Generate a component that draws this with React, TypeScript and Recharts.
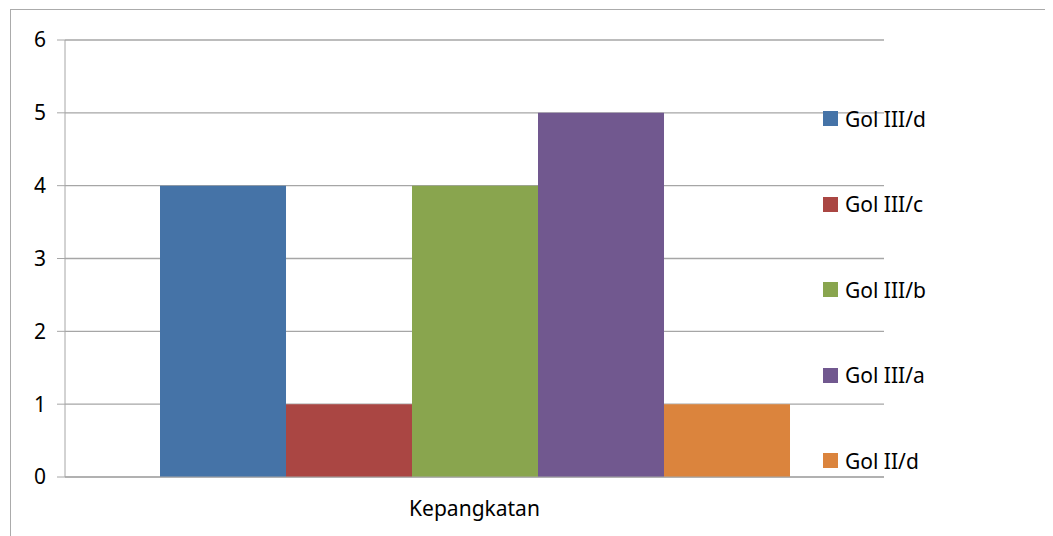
import React from "react";
import { BarChart, Bar, XAxis, YAxis, CartesianGrid } from "recharts";

const categories = ["Kepangkatan"];
const seriesNames = ["Gol III/d", "Gol III/c", "Gol III/b", "Gol III/a", "Gol II/d"];
const seriesValues = [4, 1, 4, 5, 1];
const seriesColors = ["#4573A7", "#AA4643", "#89A54E", "#71588F", "#DB843D"];
const yTicks = [0, 1, 2, 3, 4, 5, 6];

const data = categories.map((c) => {
  const row: Record<string, string | number> = { name: c };
  seriesNames.forEach((s, i) => {
    row[s] = seriesValues[i];
  });
  return row;
});

const FONT = "'Noto Sans', 'Open Sans', sans-serif";
const GRID = "#a6a6a6";

const LegendBox = () => (
  <div style={{ position: "absolute", left: 815, top: 68, fontFamily: FONT }}>
    {seriesNames.map((s, i) => (
      <div key={s} style={{ height: 85.5, display: "flex", alignItems: "center" }}>
        <span
          style={{
            display: "inline-block",
            width: 15,
            height: 15,
            background: seriesColors[i],
            marginRight: 7,
          }}
        />
        <span style={{ fontSize: 21, color: "#000" }}>{s}</span>
      </div>
    ))}
  </div>
);

export default function App() {
  return (
    <div style={{ position: "relative", width: 1045, height: 528 }}>
      <div
        style={{
          position: "absolute",
          left: 2,
          top: 1,
          width: 1060,
          height: 560,
          border: "1.5px solid #ababab",
          boxSizing: "border-box",
        }}
      />
      <div style={{ position: "absolute", left: 0, top: 0 }}>
        <BarChart
          width={1045}
          height={528}
          data={data}
          margin={{ top: 32, right: 169, left: 0, bottom: 0 }}
          barCategoryGap="11.6%"
          barGap={0}
        >
          <CartesianGrid vertical={false} stroke={GRID} strokeWidth={1.3} />
          <XAxis dataKey="name" hide height={0} />
          <XAxis
            xAxisId="edge"
            type="number"
            domain={[0, 1]}
            ticks={[0, 1]}
            tick={false}
            tickSize={7}
            stroke={GRID}
            height={59}
            label={{
              value: "Kepangkatan",
              position: "insideTop",
              dy: 19,
              fill: "#000",
              fontSize: 21,
              fontFamily: FONT,
            }}
          />
          <YAxis
            width={57}
            domain={[0, 6]}
            ticks={yTicks}
            interval={0}
            tickSize={8}
            tickMargin={11}
            stroke={GRID}
            tick={{ fill: "#000", fontSize: 21, fontFamily: FONT }}
          />
          {seriesNames.map((s, i) => (
            <Bar key={s} dataKey={s} fill={seriesColors[i]} isAnimationActive={false} />
          ))}
        </BarChart>
      </div>
      <LegendBox />
    </div>
  );
}
